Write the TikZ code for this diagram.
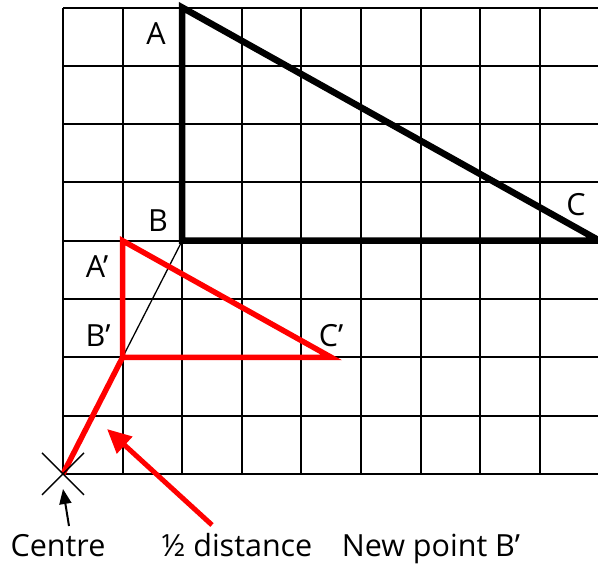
\documentclass[tikz,border=0pt]{standalone}
\usepackage{fontspec}
\setmainfont{Open Sans}
\usetikzlibrary{arrows.meta}
\begin{document}
\begin{tikzpicture}[x=1pt,y=-1pt,
  lbl/.style={font=\fontsize{30.5}{30.5}\selectfont, inner sep=0pt},
  gridline/.style={line width=2pt, black},
  bigtri/.style={line width=6.5pt, black, line join=miter, line cap=rect},
  redtri/.style={line width=5.5pt, red, line join=miter, line cap=rect},
  redline/.style={line width=5.5pt, red},
  thinline/.style={line width=1.3pt, black},
  blackarrow/.style={line width=2pt, black, -{Triangle[length=15pt,width=12pt]}},
  redarrow/.style={line width=5pt, red, -{Triangle[length=24pt,width=22pt]}}]
\useasboundingbox (0,0) rectangle (598,566);
\clip (0,0) rectangle (598,566);
\begin{scope}[shift={(63,7.5)}, x=59.6pt, y=-58.3pt]
  \foreach \i in {0,...,9} \draw[gridline] (\i,0) -- (\i,8);
  \foreach \j in {0,...,8} \draw[gridline] (0,\j) -- (10,\j);
  \coordinate (A) at (2,0);
  \coordinate (B) at (2,4);
  \coordinate (C) at (9,4);
  \coordinate (A1) at (1,4);
  \coordinate (B1) at (1,6);
  \coordinate (C1) at (4.5,6);
  \coordinate (O) at (0,8);
  \draw[thinline] (B1) -- (B);
  \draw[bigtri] (A) -- (B) -- (C) -- cycle;
  \draw[redtri] (A1) -- (B1) -- (C1) -- cycle;
  \draw[redline] (O) -- (B1);
\end{scope}
\draw[line width=1.3pt] ([shift={(-21,-21)}]O) -- ([shift={(21,21)}]O);
\draw[line width=1.3pt] ([shift={(-21,21)}]O) -- ([shift={(21,-21)}]O);
\node[lbl] (la) at (156,34) {A};
\node[lbl] (lb) at (158,221) {B};
\node[lbl] (lc) at (576,205) {C};
\node[lbl] (la1) at (97,267) {A'};
\node[lbl] (lb1) at (98,336) {B'};
\node[lbl] (lc1) at (331,336) {C'};
\node[lbl, anchor=base] (centre) at (58,556) {Centre};
\node[lbl, anchor=base] (half) at (237,556) {½ distance};
\node[lbl, anchor=base] (newpt) at (431,556) {New point B'};
\coordinate (ctail) at (69,526);
\coordinate (ctip) at (63,489);
\draw[blackarrow] (ctail) -- (ctip);
\coordinate (rtail) at (212,525);
\coordinate (rtip) at (107,429);
\draw[redarrow] (rtail) -- (rtip);
\end{tikzpicture}
\end{document}
